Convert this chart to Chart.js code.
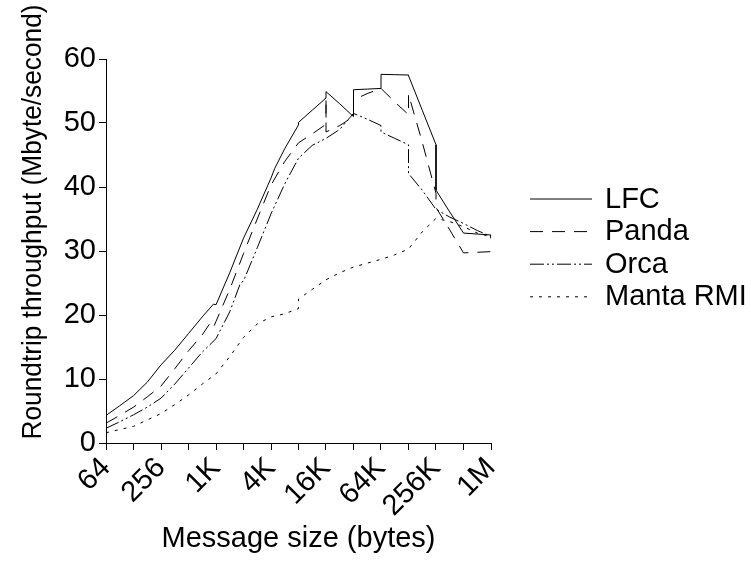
<!DOCTYPE html>
<html>
<head>
<meta charset="utf-8">
<script src="https://cdn.jsdelivr.net/npm/chart.js@4.4.1/dist/chart.umd.min.js"></script>
<style>
  html, body { margin: 0; padding: 0; background: #fff; }
  #c { display: block; }
</style>
</head>
<body>
<canvas id="c" width="751" height="563"></canvas>
<script>
// ---- data (message sizes in bytes, throughput in Mbyte/second) ----
const sizeTicks = [64, 128, 256, 512, 1024, 2048, 4096, 8192, 16384, 32768, 65536, 131072, 262144, 524288, 1048576];
const tickLabels = ['64', '', '256', '', '1K', '', '4K', '', '16K', '', '64K', '', '256K', '', '1M'];
const yTicks = [0, 10, 20, 30, 40, 50, 60];

const seriesNames = ['LFC', 'Panda', 'Orca', 'Manta RMI'];

const lfcSizes = [64, 90, 128, 181, 256, 362, 512, 724, 960, 1024, 1448, 2048, 2896, 4096, 4500, 5793, 8192, 8192, 11585, 16384, 16384, 23170, 32768, 32768, 46341, 65536, 65536, 92682, 131072, 131072, 185364, 262144, 262144, 370728, 524288, 741455, 1048576, 1048576];
const lfcValues = [4.3, 5.8, 7.4, 9.5, 12.2, 14.5, 17.1, 19.7, 21.7, 21.6, 26.6, 32.0, 36.5, 41.4, 42.9, 46.0, 49.7, 50.1, 52.0, 53.9, 54.9, 53.0, 51.0, 55.2, 55.3, 55.4, 57.6, 57.55, 57.5, 57.4, 52.0, 46.6, 39.5, 36.1, 32.8, 32.65, 32.5, 32.0];

const pandaSizes = [64, 90, 128, 181, 256, 362, 512, 724, 900, 970, 1024, 1448, 2048, 2896, 4096, 5793, 8192, 11585, 16384, 16384, 16384, 23170, 32768, 32768, 46341, 65536, 92682, 131072, 131072, 185364, 262144, 262144, 370728, 524288, 741455, 1048576];
const pandaValues = [3.1, 4.3, 5.6, 7.2, 8.9, 11.6, 14.4, 16.9, 18.9, 18.2, 19.0, 24.0, 29.6, 35.0, 40.3, 44.0, 46.9, 48.3, 49.8, 53.9, 48.6, 49.6, 51.0, 53.6, 54.6, 55.4, 53.3, 51.3, 54.5, 47.0, 39.0, 36.8, 33.3, 29.7, 29.8, 29.9];

const orcaSizes = [64, 90, 128, 181, 256, 362, 512, 724, 1024, 1448, 1900, 2048, 2896, 4096, 5793, 8192, 11585, 16384, 23170, 32768, 46341, 65536, 65536, 92682, 131072, 131072, 185364, 262144, 370728, 524288, 741455, 1048576];
const orcaValues = [2.3, 3.3, 4.4, 5.6, 7.0, 9.2, 11.7, 14.2, 16.3, 20.5, 25.0, 25.3, 30.5, 35.8, 40.5, 44.5, 46.5, 47.6, 49.0, 51.5, 50.6, 49.6, 48.6, 47.6, 46.6, 42.1, 39.5, 36.5, 35.3, 34.3, 33.2, 32.3];

const mantaSizes = [64, 90, 128, 181, 256, 362, 512, 724, 1024, 1448, 2048, 2896, 4096, 5793, 8192, 8192, 11585, 16384, 23170, 32768, 46341, 65536, 92682, 131072, 185364, 262144, 370728, 524288, 741455, 1048576];
const mantaValues = [1.6, 2.1, 2.6, 3.6, 4.6, 6.0, 7.5, 9.2, 10.8, 13.5, 16.5, 18.6, 19.7, 20.2, 21.0, 22.5, 24.0, 25.5, 26.6, 27.5, 28.1, 28.7, 29.4, 30.3, 33.0, 35.1, 34.6, 33.8, 32.8, 32.2];

// ---- styling ----
const FONT = '"Liberation Sans", Arial, Helvetica, sans-serif';
const FS = 29;
const dashes = [[], [13, 9], [14, 3, 2, 3, 2, 3], [3, 6]];

function pts(xs, ys) { return xs.map((x, i) => ({ x: x, y: ys[i] })); }

const allSizes = [lfcSizes, pandaSizes, orcaSizes, mantaSizes];
const allValues = [lfcValues, pandaValues, orcaValues, mantaValues];

const datasets = seriesNames.map((name, i) => ({
  label: name,
  data: pts(allSizes[i], allValues[i]),
  borderColor: '#000',
  backgroundColor: '#000',
  borderWidth: 1,
  borderDash: dashes[i],
  pointRadius: 0,
  tension: 0,
  fill: false
}));

const overlay = {
  id: 'overlay',
  afterDraw(chart) {
    const ctx = chart.ctx;
    ctx.save();
    ctx.fillStyle = '#000';
    // y axis title (text in reference is ~435px long)
    ctx.save();
    ctx.font = '28px ' + FONT;
    const yt = 'Roundtrip throughput (Mbyte/second)';
    const w = ctx.measureText(yt).width;
    ctx.translate(33, 222);
    ctx.rotate(-Math.PI / 2);
    ctx.scale(435 / w, 1);
    ctx.textAlign = 'center';
    ctx.textBaseline = 'middle';
    ctx.fillText(yt, 0, 0);
    ctx.restore();
    // legend
    ctx.font = FS + 'px ' + FONT;
    chart.data.datasets.forEach((ds, i) => {
      const y = 198.5 + i * 32.6;
      ctx.save();
      ctx.strokeStyle = '#000';
      ctx.lineWidth = 1;
      ctx.setLineDash(ds.borderDash || []);
      ctx.beginPath();
      ctx.moveTo(530, y + 0.5);
      ctx.lineTo(592, y + 0.5);
      ctx.stroke();
      ctx.restore();
      ctx.textAlign = 'left';
      ctx.textBaseline = 'middle';
      ctx.fillText(ds.label, 605, y + 1);
    });
    ctx.restore();
  }
};

new Chart(document.getElementById('c'), {
  type: 'line',
  data: { datasets: datasets },
  options: {
    responsive: false,
    animation: false,
    devicePixelRatio: 1,
    layout: { padding: { top: 59, right: 260, bottom: 0, left: 0 } },
    plugins: { legend: { display: false }, tooltip: { enabled: false } },
    scales: {
      x: {
        type: 'logarithmic',
        min: 64,
        max: 1048576,
        afterBuildTicks: (scale) => { scale.ticks = sizeTicks.map(v => ({ value: v })); },
        afterFit: (scale) => { scale.height = 120; },
        ticks: {
          autoSkip: false,
          maxRotation: 45,
          minRotation: 45,
          padding: 1,
          color: '#000',
          font: { family: FONT, size: FS },
          callback: (v, i) => tickLabels[i]
        },
        grid: { drawOnChartArea: false, drawTicks: true, tickLength: 7, tickColor: '#000', tickWidth: 1 },
        border: { display: true, color: '#000', width: 1 },
        title: { display: true, text: 'Message size (bytes)', color: '#000', font: { family: FONT, size: FS }, padding: { top: 0, bottom: 7 } }
      },
      y: {
        type: 'linear',
        min: 0,
        max: 60,
        afterFit: (scale) => { scale.width = 106; },
        ticks: {
          stepSize: 5,
          padding: 3,
          color: '#000',
          font: { family: FONT, size: FS },
          callback: (v) => (yTicks.includes(v) ? String(v) : '')
        },
        grid: { drawOnChartArea: false, drawTicks: true, tickLength: 7, tickColor: '#000', tickWidth: 1 },
        border: { display: true, color: '#000', width: 1 }
      }
    }
  },
  plugins: [overlay]
});
</script>
</body>
</html>
